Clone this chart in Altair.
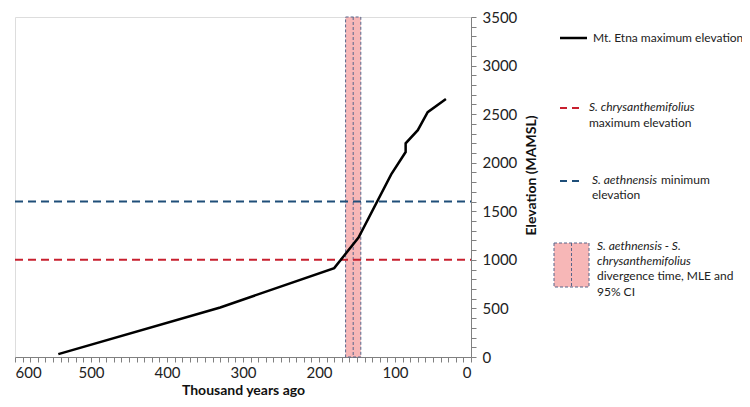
import altair as alt
import pandas as pd

# Data
etna_age = [543, 330, 180, 148, 105, 86, 86, 70, 57, 33]
etna_elev = [30, 510, 915, 1230, 1880, 2110, 2200, 2335, 2520, 2655]
chrys_max = [1000]
aeth_min = [1600]
div_low = [145]
div_mle = [155]
div_high = [165]
x_ticks = list(range(0, 601, 10))
y_ticks = list(range(0, 3501, 100))

FONT = "Lato"
GRAY = "#808080"
RED = "#C8202F"
BLUE = "#1F4E79"
PINK = "#F7B7B7"
BORDER = "#56658A"
LFS = 12
W, H = 456, 340
PAD_TOP = 9

etna = pd.DataFrame({"age": etna_age, "elev": etna_elev, "i": range(len(etna_age))})
band = pd.DataFrame({"lo": div_low, "hi": div_high, "mle": div_mle})
hlines = pd.DataFrame({"y": chrys_max + aeth_min, "s": ["red", "blue"]})
one = pd.DataFrame({"a": [0]})

xs = alt.Scale(domain=[0, 600], reverse=True, nice=False)
ys = alt.Scale(domain=[0, 3500], nice=False)

xaxis = alt.Axis(values=x_ticks, title="Thousand years ago", format="d",
                 labelExpr="datum.value % 100 === 0 ? datum.label : ''",
                 labelOverlap=False, grid=False, domainColor=GRAY, tickColor=GRAY,
                 tickSize=5, labelFont=FONT, labelFontSize=15, labelColor="#222",
                 labelPadding=3, titleFont=FONT, titleFontSize=14, titleFontWeight="bold",
                 titleColor="#111", titlePadding=3)
yaxis = alt.Axis(values=y_ticks, orient="right", title="Elevation (MAMSL)", format="d",
                 labelExpr="datum.value % 500 === 0 ? datum.label : ''",
                 labelOverlap=False, grid=False, domainColor=GRAY, tickColor=GRAY,
                 tickSize=5, labelFont=FONT, labelFontSize=15, labelColor="#222",
                 labelPadding=6, titleFont=FONT, titleFontSize=14, titleFontWeight="bold",
                 titleColor="#111", titleAngle=270, titlePadding=22, titleY=158)

band_rect = alt.Chart(band).mark_rect(fill=PINK, stroke=BORDER, strokeDash=[3, 2],
                                      strokeWidth=1).encode(
    x=alt.X("lo:Q", scale=xs, axis=xaxis),
    x2="hi:Q",
    y=alt.value(0),
    y2=alt.value(H),
)
band_mle = alt.Chart(band).mark_rule(stroke=BORDER, strokeDash=[3, 2], strokeWidth=1).encode(
    x=alt.X("mle:Q", scale=xs, axis=xaxis),
    y=alt.value(0),
    y2=alt.value(H),
)
hl = alt.Chart(hlines).mark_rule(strokeDash=[8, 5], strokeWidth=2).encode(
    y=alt.Y("y:Q", scale=ys, axis=yaxis),
    x=alt.value(0),
    x2=alt.value(W),
    color=alt.Color("s:N", scale=alt.Scale(domain=["red", "blue"], range=[RED, BLUE]), legend=None),
)
line = alt.Chart(etna).mark_line(color="black", strokeWidth=2.5).encode(
    x=alt.X("age:Q", scale=xs, axis=xaxis),
    y=alt.Y("elev:Q", scale=ys, axis=yaxis),
    order="i:Q",
)

# legend (positions relative to the plot's top-left corner)
OY = -PAD_TOP

def txt(s, x, y, italic=False):
    return alt.Chart(one).mark_text(align="left", baseline="middle", font=FONT, fontSize=LFS,
                                    fontStyle="italic" if italic else "normal",
                                    color="#222").encode(
        x=alt.value(x), y=alt.value(y + OY), text=alt.value(s))

def rule(color, x1, x2, y, dash, sw):
    kw = dict(color=color, strokeWidth=sw)
    if dash:
        kw["strokeDash"] = dash
    return alt.Chart(one).mark_rule(**kw).encode(
        x=alt.value(x1), x2=alt.value(x2), y=alt.value(y + OY))

leg = [
    rule("black", 545, 572, 30, None, 2.5),
    txt("Mt. Etna maximum elevation", 578, 30),
    rule(RED, 545, 568, 100, [7, 5], 2),
    txt("S. chrysanthemifolius", 574, 99, True),
    txt("maximum elevation", 574, 115),
    rule(BLUE, 545, 568, 173, [7, 5], 2),
    txt("S. aethnensis", 577, 172, True),
    txt("minimum", 646, 172),
    txt("elevation", 577, 187),
    alt.Chart(one).mark_rect(fill=PINK, stroke=BORDER, strokeDash=[3, 2], strokeWidth=1).encode(
        x=alt.value(539), x2=alt.value(574), y=alt.value(235 + OY), y2=alt.value(279 + OY)),
    alt.Chart(one).mark_rule(stroke=BORDER, strokeDash=[3, 2], strokeWidth=1).encode(
        x=alt.value(556.5), y=alt.value(235 + OY), y2=alt.value(279 + OY)),
    txt("S. aethnensis -  S.", 582, 238, True),
    txt("chrysanthemifolius", 582, 253, True),
    txt("divergence time, MLE and", 582, 268),
    txt("95% CI", 582, 284),
]

chart = alt.layer(band_rect, band_mle, hl, line, *leg).properties(
    width=W, height=H,
    autosize=alt.AutoSizeParams(type="none"),
    padding={"left": 7, "top": PAD_TOP, "right": 271, "bottom": 42},
).configure_view(stroke=GRAY, strokeWidth=1).configure(background="white")

chart.save("out.html", embed_options={"renderer": "svg", "actions": False})
